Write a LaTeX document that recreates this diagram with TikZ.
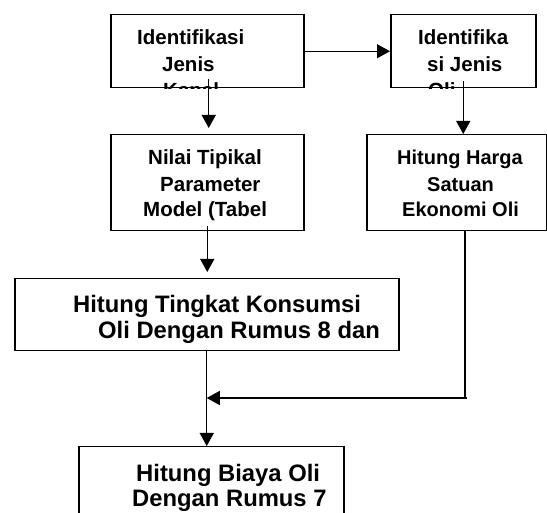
\documentclass[tikz,border=0pt]{standalone}
\usepackage{fontspec}
\setmainfont{Liberation Sans}
\usetikzlibrary{arrows.meta}
\begin{document}
\begin{tikzpicture}[x=1pt,y=-1pt,
  box/.style={draw, line width=1.5pt, inner sep=0pt, anchor=north west},
  smalltxt/.style={anchor=base west, inner sep=0pt, font=\bfseries\fontsize{20.5}{26}\selectfont},
  bigtxt/.style={anchor=base west, inner sep=0pt, font=\bfseries\fontsize{23.8}{26}\selectfont},
  link/.style={line width=1.3pt, -{Triangle[length=13pt,width=14pt]}},
  plain/.style={line width=1.3pt}]
\useasboundingbox (0,0) rectangle (547,513);

% boxes
\node[box, minimum width=193pt, minimum height=73pt] (b1) at (110,14) {};
\node[box, minimum width=145pt, minimum height=73pt] (b2) at (390,14) {};
\node[box, minimum width=193pt, minimum height=96pt] (b3) at (110,134) {};
\node[box, minimum width=180pt, minimum height=96pt] (b4) at (366,134) {};
\node[box, minimum width=384pt, minimum height=72pt] (b5) at (14,278) {};
\node[box, minimum width=265pt, minimum height=90pt] (b6) at (78,446) {};

% labels, cut off at the lower edge of the top boxes
\begin{scope}
  \clip (b1.north west) rectangle (b1.south east);
  \node[smalltxt] (t1a) at (137,45) {Identifikasi};
  \node[smalltxt] (t1b) at (162,72) {Jenis};
  \node[smalltxt] (t1c) at (163,98) {Kapal};
\end{scope}
\begin{scope}
  \clip (b2.north west) rectangle (b2.south east);
  \node[smalltxt] (t2a) at (418,45) {Identifika};
  \node[smalltxt] (t2b) at (427,72) {si Jenis};
  \node[smalltxt] (t2c) at (428,98) {Oli};
\end{scope}

\node[smalltxt] (t3a) at (148,165) {Nilai Tipikal};
\node[smalltxt] (t3b) at (160,192) {Parameter};
\node[smalltxt] (t3c) at (143,217) {Model (Tabel};

\node[smalltxt, font=\bfseries\fontsize{20}{26}\selectfont] (t4a) at (397,165) {Hitung Harga};
\node[smalltxt, font=\bfseries\fontsize{20}{26}\selectfont] (t4b) at (427,192) {Satuan};
\node[smalltxt, font=\bfseries\fontsize{20}{26}\selectfont] (t4c) at (402,217) {Ekonomi Oli};

\node[bigtxt] (t5a) at (73,313) {Hitung Tingkat Konsumsi};
\node[bigtxt] (t5b) at (98,339) {Oli Dengan Rumus 8 dan};

\node[bigtxt] (t6a) at (136,482) {Hitung Biaya Oli};
\node[bigtxt] (t6b) at (132,507) {Dengan Rumus 7};

% connectors
\draw[link] (b1.east) -- (b2.west);
\draw[link, shorten >=6pt] ([xshift=1.5pt,yshift=9pt]b1.south) -- ([xshift=1.5pt]b3.north);
\draw[link] ([yshift=7pt]b2.south) -- (b2.south |- b4.north);
\draw[link, shorten >=6pt] ([yshift=5pt]b3.south) -- (b3.south |- b5.north);
\draw[link] (b5.south) -- (b5.south |- b6.north);

\coordinate (m) at (b5.south |- 0,398);
\coordinate (c) at (465,398);
\draw[plain] (465,230) -- (c) -- ++(1.5,0);
\draw[link] (c) -- (m);
\end{tikzpicture}
\end{document}
